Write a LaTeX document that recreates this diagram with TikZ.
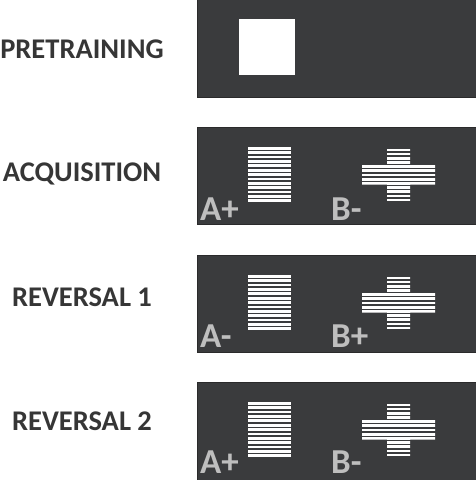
\documentclass[tikz,border=0pt]{standalone}
\usepackage{fontspec}
\setmainfont{Carlito}
\definecolor{panelbg}{HTML}{3A3B3D}
\definecolor{panelbd}{HTML}{2A2A2B}
\definecolor{titlecol}{HTML}{363636}
\definecolor{labcol}{HTML}{BEBEBE}
\tikzset{
  panel/.style={fill=panelbg, draw=panelbd, line width=0.8pt},
  title/.style={anchor=base, inner sep=0pt, text=titlecol, font=\fontsize{28.5}{32}\selectfont\bfseries},
  stimlab/.style={anchor=base west, inner sep=0pt, text=labcol, font=\fontsize{35}{38}\selectfont\bfseries},
  stripe/.style={fill=white}
}
\begin{document}
\begin{tikzpicture}[x=1pt,y=-1pt]
\useasboundingbox (0,0) rectangle (475,480);
% panel 1
\fill[panel] (197,-1) rectangle (476,97);
\fill[white] (239,19) rectangle (295,75);
\node[title] (title-pre) at (82,58) {PRETRAINING};
% other panels
\foreach \o/\nm/\ttl/\base/\la/\lb/\ob/\lbase in {127/acq/ACQUISITION/181/A+/B-/224/93.5, 255/rev1/REVERSAL 1/306/A-/B+/352/92.3, 382/rev2/REVERSAL 2/430/A+/B-/481/91}{
  \fill[panel] (197,\o) rectangle (476,\ob);
  \node[title] (title-\nm) at (82,\base) {\ttl};
  % striped rectangle
  \foreach \k in {0,...,12}{
    \fill[stripe] (248,{\o+20+\k*4.36}) rectangle (291,{\o+22.7+\k*4.36});
  }
  % striped cross
  \begin{scope}
    \clip (387,\o+21.5) rectangle (410,\o+75) (362,\o+37.5) rectangle (435,\o+57.5);
    \foreach \k in {0,...,12}{
      \fill[stripe] (360,{\o+21.5+\k*4.19}) rectangle (437,{\o+24.2+\k*4.19});
    }
  \end{scope}
  \node[stimlab] (a-\nm) at (200,\o+\lbase) {\la};
  \node[stimlab] (b-\nm) at (331,\o+\lbase) {\lb};
}
\end{tikzpicture}
\end{document}
